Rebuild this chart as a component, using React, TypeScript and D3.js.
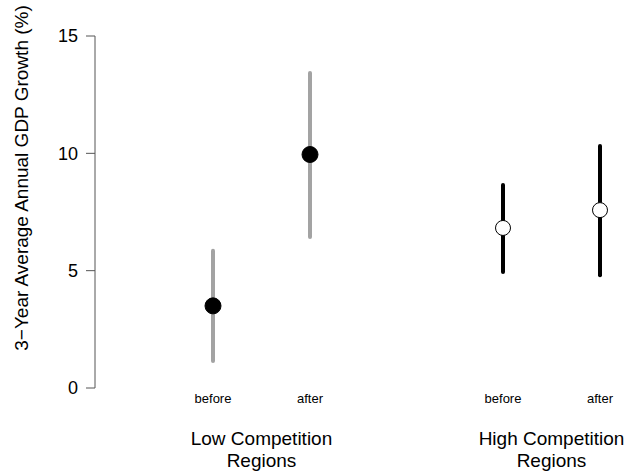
import React from "react";
import * as d3 from "d3";

const groups = ["Low Competition", "High Competition"];
const periods = ["before", "after"];
const estimates = [3.5, 9.95, 6.82, 7.58];
const lower = [1.15, 6.43, 4.94, 4.81];
const upper = [5.85, 13.42, 8.65, 10.31];
const yTicks = [0, 5, 10, 15];
const pointX = [213, 310, 503, 600];

export default function App() {
  const W = 628, H = 475;
  const y = d3.scaleLinear().domain([0, 15]).range([388, 36]);
  const axisX = 95;
  const font = "'Liberation Sans', Arial, sans-serif";
  const items = estimates.map((e, i) => ({
    e, lo: lower[i], hi: upper[i], x: pointX[i],
    group: Math.floor(i / 2), period: periods[i % 2],
  }));
  return (
    <svg width={W} height={H} style={{ position: "absolute", left: 0, top: 0 }} fontFamily={font}>
      <rect width={W} height={H} fill="#fff" />
      <line x1={axisX} x2={axisX} y1={y(0)} y2={y(15)} stroke="#555" strokeWidth={1} />
      {yTicks.map((t) => (
        <g key={t}>
          <line x1={axisX - 9} x2={axisX} y1={y(t)} y2={y(t)} stroke="#555" strokeWidth={1} />
          <text x={axisX - 17} y={y(t)} dy="0.36em" textAnchor="end" fontSize={18} fill="#000">{t}</text>
        </g>
      ))}
      <text transform={`translate(28,178) rotate(-90)`} textAnchor="middle" fontSize={19} fill="#000">
        3−Year Average Annual GDP Growth (%)
      </text>
      {items.map((d, i) => (
        <g key={i}>
          <line x1={d.x} x2={d.x} y1={y(d.lo)} y2={y(d.hi)}
            stroke={d.group === 0 ? "#a3a3a3" : "#000"} strokeWidth={4} strokeLinecap="round" />
          <circle cx={d.x} cy={y(d.e)} r={d.group === 0 ? 8 : 7.5}
            fill={d.group === 0 ? "#000" : "#fff"} stroke="#000" strokeWidth={1} />
          <text x={d.x} y={403} textAnchor="middle" fontSize={13} fill="#000">{d.period}</text>
        </g>
      ))}
      {groups.map((g, gi) => {
        const cx = (pointX[gi * 2] + pointX[gi * 2 + 1]) / 2;
        return (
          <g key={g}>
            <text x={cx} y={445} textAnchor="middle" fontSize={19} fill="#000">{g}</text>
            <text x={cx} y={467} textAnchor="middle" fontSize={19} fill="#000">Regions</text>
          </g>
        );
      })}
    </svg>
  );
}
